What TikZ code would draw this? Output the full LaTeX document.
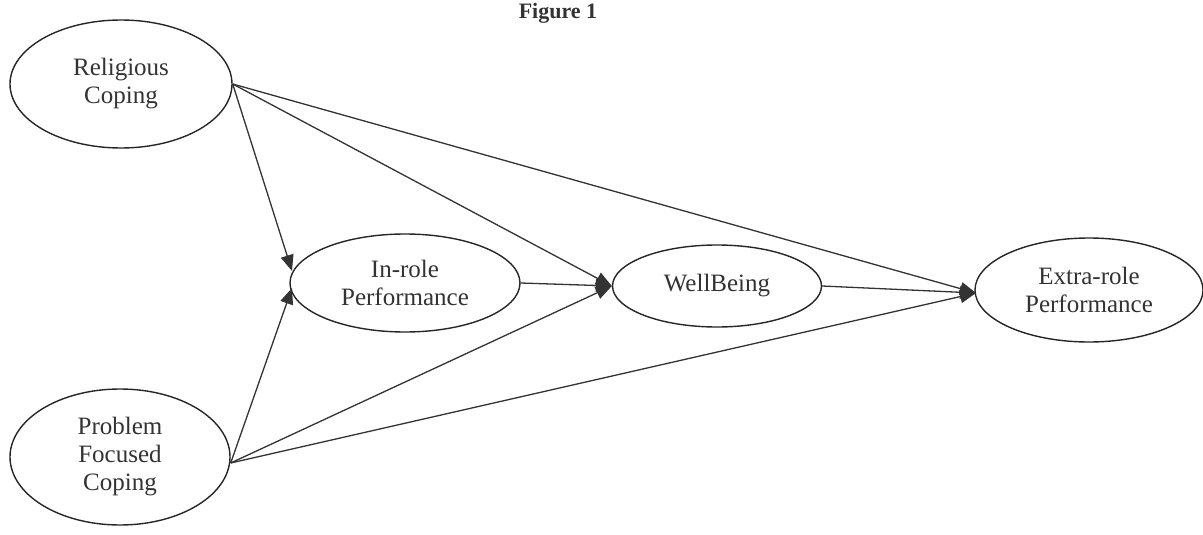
\documentclass[tikz,border=0pt]{standalone}
\usepackage{fontspec}
\setmainfont{Liberation Serif}
\usetikzlibrary{arrows.meta,shapes.geometric}
\begin{document}
\begin{tikzpicture}[x=1pt,y=-1pt,
  construct/.style={draw=black!85,line width=1.4pt,ellipse,inner sep=0pt,align=center,
    font=\fontsize{25}{28}\selectfont,text=black!80},
  path/.style={draw=black!80,line width=1.3pt,-{Triangle[length=16pt,width=13pt]}}]
\useasboundingbox (0,0) rectangle (1203,535);
\fill[white] (0,0) rectangle (1203,535);
\node[font=\bfseries\fontsize{22}{26}\selectfont,text=black!80,anchor=base] (title) at (558,19) {Figure 1};
\node[construct,minimum width=222pt,minimum height=128pt] (rc) at (121,84) {Religious\\Coping\vphantom{\rule{0pt}{12pt}}};
\node[construct,minimum width=220pt,minimum height=136pt] (pfc) at (120,457) {Problem\\Focused\\Coping};
\node[construct,minimum width=230pt,minimum height=98pt] (ir) at (405,283) {In-role\\Performance};
\node[construct,minimum width=209pt,minimum height=82pt] (wb) at (717,286) {WellBeing};
\node[construct,minimum width=228pt,minimum height=104pt] (er) at (1089,290) {Extra-role\\Performance};
\coordinate (rcout) at (rc.east);
\coordinate (pfcout) at ([yshift=-6pt]pfc.east);
\coordinate (irin1) at (292,271);
\coordinate (irin2) at (292,288);
\coordinate (wbin) at (wb.west);
\coordinate (erin) at (976,293);
\draw[path] (rcout) -- (irin1);
\draw[path] (pfcout) -- (irin2);
\draw[path] (rcout) -- (wbin);
\draw[path] (pfcout) -- (wbin);
\draw[path] (ir.east) -- (wbin);
\draw[path] (rcout) -- (erin);
\draw[path] (pfcout) -- (erin);
\draw[path] (wb.east) -- (erin);
\end{tikzpicture}
\end{document}
